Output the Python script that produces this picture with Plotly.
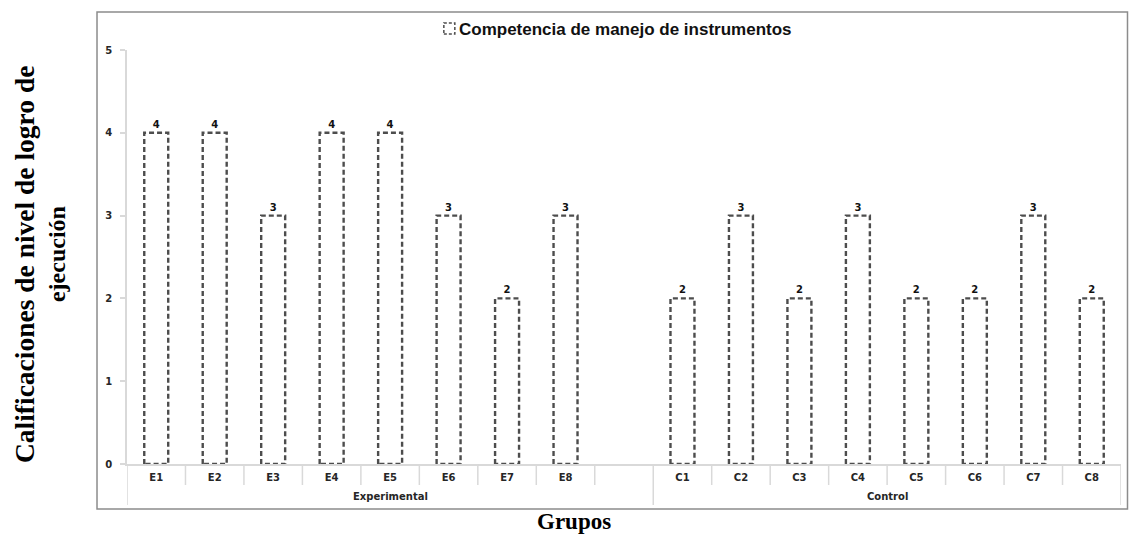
import plotly.graph_objects as go

groups = ["Experimental"] * 9 + ["Control"] * 8
categories = ["E1", "E2", "E3", "E4", "E5", "E6", "E7", "E8", "",
              "C1", "C2", "C3", "C4", "C5", "C6", "C7", "C8"]
values = [4, 4, 3, 4, 4, 3, 2, 3, None, 2, 3, 2, 3, 2, 2, 3, 2]
y_ticks = [0, 1, 2, 3, 4, 5]
series_name = "Competencia de manejo de instrumentos"

BAR_W = 0.41
OUT = "#4d4d4d"
AX = "#d9d9d9"
TICKFONT = dict(family="DejaVu Sans", size=10, color="#262626", weight="bold")

# plot area geometry in pixels (for paper-coordinate decorations)
L, R, T, B = 127, 8.5, 50, 75
W, H = 1130, 539
PW, PH = W - L - R, H - T - B


def px_x(x):
    return (x - L) / PW


def px_y(y):
    return (H - B - y) / PH


n = len(categories)
idx = list(range(n))

fig = go.Figure()

fig.add_trace(go.Bar(
    x=idx, y=values, width=BAR_W,
    marker=dict(color="white", line=dict(width=0)),
    text=[("" if v is None else str(v)) for v in values],
    textposition="outside", cliponaxis=False,
    textfont=dict(family="DejaVu Sans", size=10, color="#111111", weight="bold"),
    showlegend=False, hoverinfo="skip",
))

xs, ys = [], []
for i, v in zip(idx, values):
    if v is None:
        continue
    x0, x1 = i - BAR_W / 2, i + BAR_W / 2
    xs += [x0, x0, x1, x1, x0, None]
    ys += [0, v, v, 0, 0, None]
fig.add_trace(go.Scatter(
    x=xs, y=ys, mode="lines",
    line=dict(color=OUT, width=2.4, dash="5px,3px"),
    showlegend=False, hoverinfo="skip", name=series_name,
))

shapes = []
annotations = []

# category separators and group dividers
group_bounds = [-0.5] + [i - 0.5 for i in range(1, n) if groups[i] != groups[i - 1]] + [n - 0.5]
for i in range(1, n):
    b = i - 0.5
    if b in group_bounds:
        continue
    shapes.append(dict(type="line", xref="x", yref="paper", x0=b, x1=b,
                       y0=0, y1=px_y(H - B + 21), line=dict(color=AX, width=1.5)))
for b in group_bounds:
    shapes.append(dict(type="line", xref="x", yref="paper", x0=b, x1=b,
                       y0=0, y1=px_y(H - B + 41), line=dict(color=AX, width=1.5)))
# group labels
for g0, g1 in zip(group_bounds[:-1], group_bounds[1:]):
    g = groups[int(g0 + 0.5)]
    annotations.append(dict(text=g, xref="x", yref="paper", x=(g0 + g1) / 2,
                            y=px_y(497), xanchor="center", yanchor="middle",
                            showarrow=False, font=TICKFONT))

# outer chart border
shapes.append(dict(type="rect", xref="paper", yref="paper",
                   x0=px_x(97), x1=px_x(1128), y0=px_y(509), y1=px_y(12),
                   line=dict(color="#8c8c8c", width=1.5), fillcolor="rgba(0,0,0,0)"))

# legend (dashed swatch + text)
shapes.append(dict(type="rect", xref="paper", yref="paper",
                   x0=px_x(444), x1=px_x(455), y0=px_y(34), y1=px_y(23),
                   line=dict(color=OUT, width=1.5, dash="3px,2px"), fillcolor="white"))
annotations.append(dict(text=series_name, xref="paper", yref="paper",
                        x=px_x(457), y=px_y(29), xanchor="left", yanchor="middle",
                        showarrow=False,
                        font=dict(family="Liberation Sans", size=17, color="#111111",
                                  weight="bold")))

# axis titles
annotations += [
    dict(text="<b>Calificaciones de nivel de logro de</b>", xref="paper", yref="paper",
         x=px_x(24), y=px_y(265), xanchor="center", yanchor="middle", textangle=-90,
         showarrow=False, font=dict(family="Liberation Serif", size=27.5, color="black")),
    dict(text="<b>ejecución</b>", xref="paper", yref="paper",
         x=px_x(57), y=px_y(254), xanchor="center", yanchor="middle", textangle=-90,
         showarrow=False, font=dict(family="Liberation Serif", size=24, color="black")),
    dict(text="<b>Grupos</b>", xref="paper", yref="paper",
         x=px_x(574), y=px_y(521), xanchor="center", yanchor="middle", showarrow=False,
         font=dict(family="Liberation Serif", size=23, color="black")),
]

fig.update_layout(
    width=W, height=H,
    margin=dict(l=L, r=R, t=T, b=B),
    paper_bgcolor="white", plot_bgcolor="white",
    barmode="overlay", showlegend=False,
    xaxis=dict(
        range=[-0.5, n - 0.5], tickvals=idx, ticktext=categories,
        showline=True, linecolor=AX, linewidth=1.5, ticks="",
        ticklabelstandoff=3, showgrid=False, zeroline=False, tickfont=TICKFONT,
    ),
    yaxis=dict(
        range=[0, 5], tickvals=y_ticks, showgrid=False, zeroline=False,
        showline=True, linecolor=AX, linewidth=1.5,
        ticks="outside", ticklen=5, tickcolor=AX, tickwidth=1.5,
        ticklabelstandoff=6, tickfont=TICKFONT,
    ),
    shapes=shapes,
    annotations=annotations,
)

fig.write_html("out.html")
